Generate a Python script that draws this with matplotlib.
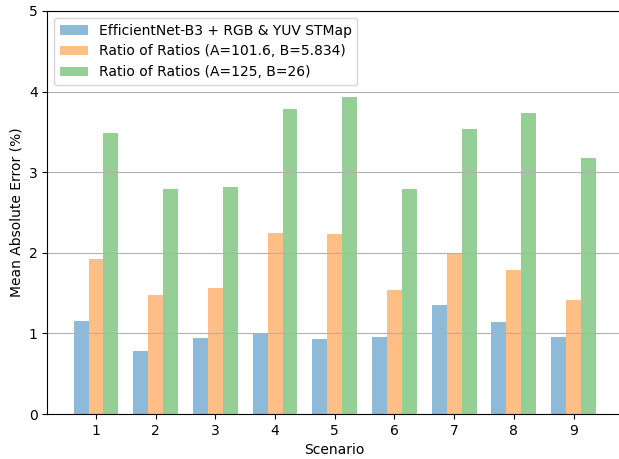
import numpy as np
import matplotlib
matplotlib.use("Agg")
import matplotlib.pyplot as plt

scenarios = [1, 2, 3, 4, 5, 6, 7, 8, 9]
effnet_mae = [1.15, 0.78, 0.94, 0.99, 0.93, 0.96, 1.35, 1.14, 0.96]
ror_fit_mae = [1.92, 1.48, 1.56, 2.25, 2.23, 1.54, 1.99, 1.79, 1.41]
ror_std_mae = [3.49, 2.79, 2.82, 3.79, 3.93, 2.79, 3.53, 3.74, 3.18]
labels = ["EfficientNet-B3 + RGB & YUV STMap",
          "Ratio of Ratios (A=101.6, B=5.834)",
          "Ratio of Ratios (A=125, B=26)"]

fig = plt.figure(figsize=(6.19, 4.59), dpi=100)
# axes run slightly past the right edge of the canvas
ax = fig.add_axes([47.5 / 619, 45 / 459, 574.5 / 619, 403 / 459])

x = np.array(scenarios)
w = 0.25
ax.bar(x - w, effnet_mae, w, alpha=0.5, label=labels[0])
ax.bar(x, ror_fit_mae, w, alpha=0.5, label=labels[1])
ax.bar(x + w, ror_std_mae, w, alpha=0.5, label=labels[2])

ax.set_ylim(0, 5)
ax.set_xticks(scenarios)
ax.set_xlabel("Scenario")
ax.set_ylabel("Mean Absolute Error (%)")
ax.yaxis.grid(True)
ax.spines["right"].set_visible(False)
ax.legend(loc="upper left")

fig.savefig("out.png", dpi=100)
